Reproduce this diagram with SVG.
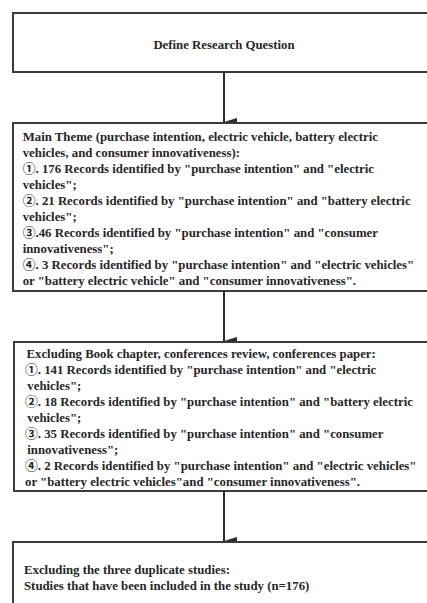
<svg xmlns="http://www.w3.org/2000/svg" width="427" height="603" viewBox="0 0 427 603">
<defs>
<style>
.box{fill:#ffffff;stroke:#3a3a3a;stroke-width:2}
.t{font-family:"Liberation Serif","Noto Sans CJK SC",serif;font-weight:bold;font-size:12.8px;fill:#262626}
.c{stroke:#2a2a2a;stroke-width:2;fill:none}
</style>
<marker id="ah" markerWidth="8" markerHeight="13" refX="4" refY="13" orient="auto-start-reverse" markerUnits="userSpaceOnUse" viewBox="0 0 8 13">
<path d="M0,0 L8,0 L4,13 Z" fill="#2a2a2a"/>
</marker>
</defs>
<rect width="427" height="603" fill="#ffffff"/>
<g id="connectors">
<line class="c" x1="224" y1="73" x2="224" y2="122" marker-end="url(#ah)"/>
<line class="c" x1="224" y1="291" x2="224" y2="341" marker-end="url(#ah)"/>
<line class="c" x1="224" y1="491" x2="224" y2="541" marker-end="url(#ah)"/>
</g>
<g id="node1">
<rect class="box" x="13" y="13" width="430" height="59"/>
<text class="t" x="224" y="49" text-anchor="middle">Define Research Question</text>
</g>
<g id="node2">
<rect class="box" x="13" y="123" width="430" height="168"/>
<text class="t" x="22.7" y="140.5">Main Theme (purchase intention, electric vehicle, battery electric</text>
<text class="t" x="22.7" y="156.5">vehicles, and consumer innovativeness):</text>
<text class="t" x="22.7" y="172.5">①. 176 Records identified by "purchase intention" and "electric</text>
<text class="t" x="22.7" y="188.5">vehicles";</text>
<text class="t" x="22.7" y="204.5">②. 21 Records identified by "purchase intention" and "battery electric</text>
<text class="t" x="22.7" y="220.5">vehicles";</text>
<text class="t" x="22.7" y="236.5">③.46 Records identified by "purchase intention" and "consumer</text>
<text class="t" x="22.7" y="252.5">innovativeness";</text>
<text class="t" x="22.7" y="268.5">④. 3 Records identified by "purchase intention" and "electric vehicles"</text>
<text class="t" x="22.7" y="284.5">or "battery electric vehicle" and "consumer innovativeness".</text>
</g>
<g id="node3">
<rect class="box" x="14" y="342" width="430" height="149"/>
<text class="t" x="26.5" y="358">Excluding Book chapter, conferences review, conferences paper:</text>
<text class="t" x="25" y="374">①. 141 Records identified by "purchase intention" and "electric</text>
<text class="t" x="27.3" y="390">vehicles";</text>
<text class="t" x="25" y="406">②. 18 Records identified by "purchase intention" and "battery electric</text>
<text class="t" x="27.3" y="422">vehicles";</text>
<text class="t" x="25" y="438">③. 35 Records identified by "purchase intention" and "consumer</text>
<text class="t" x="27.3" y="454">innovativeness";</text>
<text class="t" x="25" y="470">④. 2 Records identified by "purchase intention" and "electric vehicles"</text>
<text class="t" x="25" y="486">or "battery electric vehicles"and "consumer innovativeness".</text>
</g>
<g id="node4">
<rect class="box" x="13" y="542" width="430" height="80"/>
<text class="t" x="24" y="574">Excluding the three duplicate studies:</text>
<text class="t" x="24" y="590">Studies that have been included in the study (n=176)</text>
</g>
</svg>
